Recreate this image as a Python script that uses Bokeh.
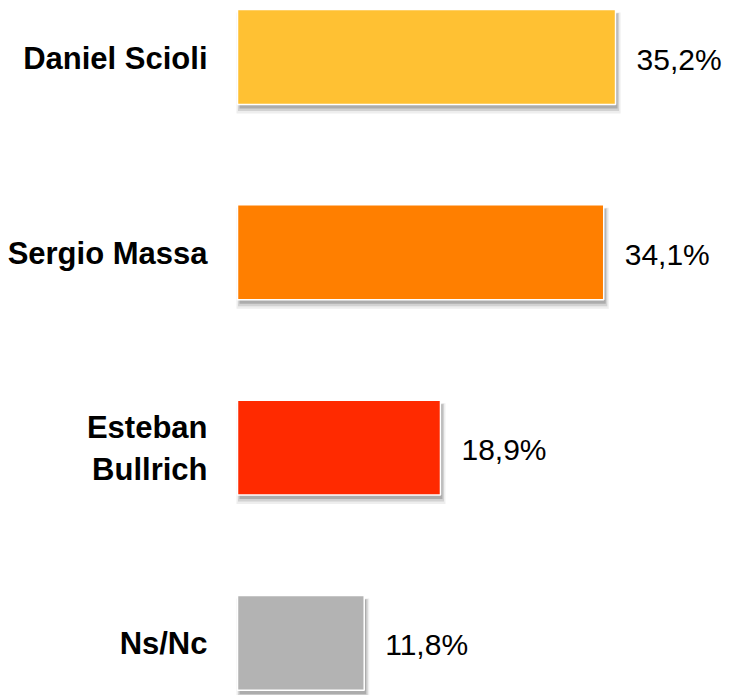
from bokeh.plotting import figure
from bokeh.models import Range1d, ColumnDataSource
from bokeh.core.properties import value
from bokeh.transform import dodge
from bokeh.embed import file_html
from bokeh.resources import INLINE

# ---- data ----
candidates = ["Daniel Scioli", "Sergio Massa", "Esteban\nBullrich", "Ns/Nc"]
values = [35.2, 34.1, 18.9, 11.8]
value_labels = ["35,2%", "34,1%", "18,9%", "11,8%"]
colors = ["#FFC133", "#FF7F00", "#FF2A00", "#B3B3B3"]

n = len(candidates)
ys = [n - 1 - i for i in range(n)]

src = ColumnDataSource(dict(cand=candidates, val=values, lab=value_labels,
                            col=colors, y=ys))

W, H = 729, 695
px_x = 1 / 10.74
px_y = 1 / 195.3
x0 = -237 * px_x
y1 = 3 + 56.5 * px_y

p = figure(width=W, height=H, output_backend="svg", toolbar_location=None,
           x_range=Range1d(x0, x0 + W * px_x),
           y_range=Range1d(y1 - H * px_y, y1),
           min_border=0, outline_line_color=None)
p.axis.visible = False
p.grid.visible = False
p.background_fill_color = "white"
p.border_fill_color = "white"

bh = 0.486

# soft shadows (layered)
for dx, dy, grow, a in [(2, 6, 3, 0.10), (2, 5, 1.5, 0.18), (2, 4, 0, 0.30)]:
    p.hbar(y=dodge("y", -dy * px_y), left=dx * px_x - grow * px_x,
           right=dodge("val", (dx + grow) * px_x), height=bh + 2 * grow * px_y,
           source=src, fill_color="#555555", fill_alpha=a, line_color=None)

p.hbar(y="y", left=0, right="val", height=bh, source=src,
       fill_color="col", line_color="white", line_width=1.5)

p.text(x=0, y="y", text="cand", source=src, x_offset=-30, y_offset=1,
       text_align="right", text_baseline="middle",
       text_font=value("Liberation Sans"), text_font_style="bold",
       text_font_size="31px", text_color="black", text_line_height=1.2)

p.text(x="val", y="y", text="lab", source=src, x_offset=21, y_offset=2,
       text_align="left", text_baseline="middle",
       text_font=value("Liberation Sans"), text_font_size="30px",
       text_color="black")

open("out.html", "w").write(file_html(p, INLINE))
